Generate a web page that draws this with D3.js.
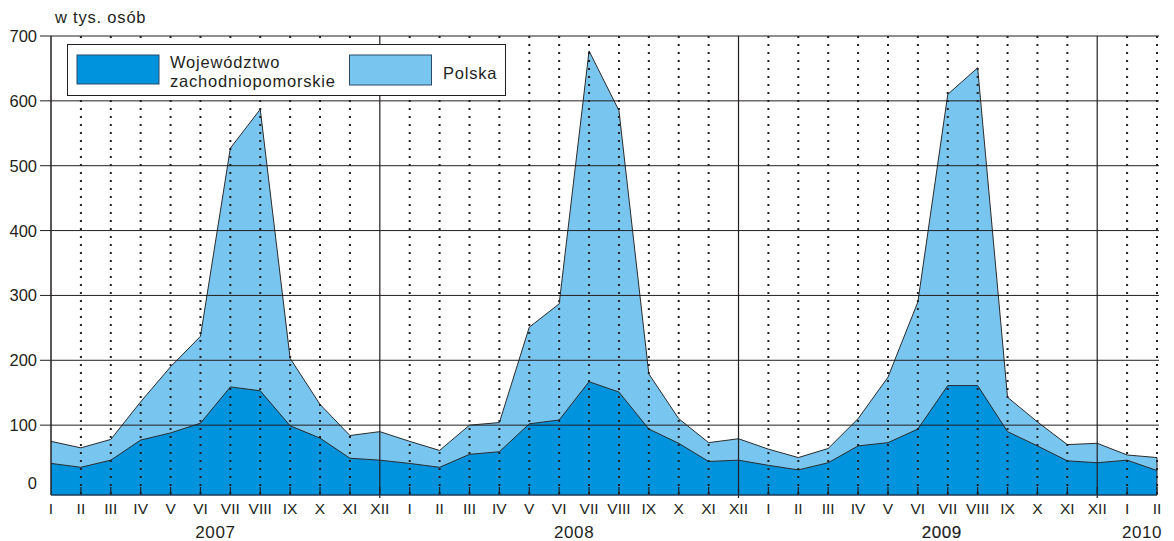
<!DOCTYPE html>
<html><head><meta charset="utf-8">
<script src="https://cdn.jsdelivr.net/npm/d3@7"></script>
<style>body{margin:0;background:#fff}svg{display:block;font-family:"Liberation Sans",Arial,sans-serif}</style>
</head><body><svg id="c" width="1174" height="541"></svg>
<script>
const months = ["I","II","III","IV","V","VI","VII","VIII","IX","X","XI","XII",
                "I","II","III","IV","V","VI","VII","VIII","IX","X","XI","XII",
                "I","II","III","IV","V","VI","VII","VIII","IX","X","XI","XII",
                "I","II"];
const years = [{label:"2007",at:5.5},{label:"2008",at:17.5},{label:"2009",at:29.8},{label:"2010",at:36.5}];
const polska = [75,65,78,136,190,237,527,587,203,132,84,90,
                75,61,100,104,251,287,677,585,179,110,73,79,
                63,50,64,110,174,290,610,651,143,105,70,72,
                54,50];
const zachodniopomorskie = [41,35,46,77,88,103,159,153,99,80,49,46,
                41,35,55,59,102,108,167,151,94,72,44,46,
                38,31,42,68,73,94,161,161,90,68,45,42,
                46,30];
const yTicks = [0,100,200,300,400,500,600,700];
const seriesNames = ["Województwo\nzachodniopomorskie","Polska"];
const colors = {dark:"#0093dd", light:"#78c5ef"};

const svg = d3.select("#c");
const L=51, R=1157, T=36, B=490, BOT=495;
const x = d3.scaleLinear().domain([0, months.length-1]).range([L,R]);
const y = d3.scaleLinear().domain([0,700]).range([B,T]);
const ink="#231f20";

const area = d3.area().x((d,i)=>x(i)).y0(BOT).y1(d=>y(d));
const line = d3.line().x((d,i)=>x(i)).y(d=>y(d));

svg.append("path").attr("d",area(polska)).attr("fill",colors.light);
svg.append("path").attr("d",line(polska)).attr("fill","none").attr("stroke","#2b2b2b").attr("stroke-width",1);
svg.append("path").attr("d",area(zachodniopomorskie)).attr("fill",colors.dark);
svg.append("path").attr("d",line(zachodniopomorskie)).attr("fill","none").attr("stroke","#2b2b2b").attr("stroke-width",1);
svg.append("line").attr("x1",R).attr("x2",R).attr("y1",y(polska[polska.length-1])).attr("y2",BOT).attr("stroke","#2b2b2b").attr("stroke-width",1);

// vertical grid
months.forEach((m,i)=>{
  if(i===0) return;
  const isYearEnd = (i%12===11);
  svg.append("line").attr("x1",x(i)).attr("x2",x(i)).attr("y1",T).attr("y2",isYearEnd?498:BOT)
    .attr("stroke",ink).attr("stroke-width",isYearEnd?1.2:2)
    .attr("stroke-dasharray",isYearEnd?null:"2 6");
  svg.append("line").attr("x1",x(i)).attr("x2",x(i)).attr("y1",BOT-8).attr("y2",BOT)
    .attr("stroke",ink).attr("stroke-width",1.2);
});

// horizontal grid
yTicks.forEach(t=>{
  if(t===0) return;
  svg.append("line").attr("x1",40).attr("x2",R+2).attr("y1",y(t)).attr("y2",y(t))
    .attr("stroke",ink).attr("stroke-width",1);
});
svg.append("line").attr("x1",L).attr("x2",L).attr("y1",T).attr("y2",BOT).attr("stroke",ink).attr("stroke-width",1.5);
svg.append("line").attr("x1",L).attr("x2",R).attr("y1",BOT).attr("y2",BOT).attr("stroke","#1d3a55").attr("stroke-width",1.5);

// y labels
yTicks.forEach(t=>{
  svg.append("text").attr("x",37).attr("y",t===0?y(t)-7:y(t)).attr("dy","0.36em").attr("text-anchor","end")
    .attr("font-size",16.5).attr("fill",ink).text(t);
});
svg.append("text").attr("x",55).attr("y",23).attr("font-size",16.5).attr("letter-spacing",0.8).attr("fill",ink).text("w tys. osób");

// x labels
months.forEach((m,i)=>{
  svg.append("text").attr("x",x(i)).attr("y",514).attr("text-anchor","middle")
    .attr("font-size",15.5).attr("fill",ink).text(m);
});
years.forEach(yr=>{
  svg.append("text").attr("x",x(yr.at)).attr("y",538).attr("text-anchor","middle")
    .attr("font-size",17).attr("letter-spacing",0.6).attr("fill",ink)
    .attr("stroke",yr.label==="2009"?ink:"none").attr("stroke-width",0.2).text(yr.label);
});

// legend
const lg = svg.append("g");
lg.append("rect").attr("x",67.5).attr("y",44.5).attr("width",438).attr("height",51).attr("fill","#fff").attr("stroke",ink).attr("stroke-width",1);
lg.append("rect").attr("x",77).attr("y",55).attr("width",82).attr("height",29).attr("fill",colors.dark).attr("stroke","#2a4a66").attr("stroke-width",1);
const t1 = lg.append("text").attr("x",170).attr("font-size",16.5).attr("letter-spacing",0.8).attr("fill",ink);
seriesNames[0].split("\n").forEach((s,k)=>t1.append("tspan").attr("x",170).attr("y",68+k*18.5).text(s));
lg.append("rect").attr("x",349.5).attr("y",55).attr("width",82).attr("height",30).attr("fill",colors.light).attr("stroke","#2a4a66").attr("stroke-width",1);
lg.append("text").attr("x",443).attr("y",79).attr("font-size",16.5).attr("letter-spacing",0.8).attr("fill",ink).text(seriesNames[1]);
</script></body></html>
